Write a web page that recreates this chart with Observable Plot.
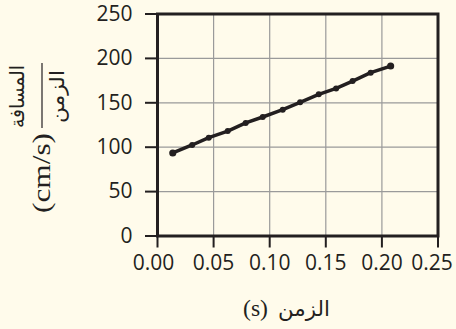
<!DOCTYPE html>
<html>
<head>
<meta charset="utf-8">
<script src="https://cdn.jsdelivr.net/npm/d3@7"></script>
<script src="https://cdn.jsdelivr.net/npm/@observablehq/plot@0.6"></script>
<style>
  html, body { margin: 0; padding: 0; background: #fffbeb; }
  #chart svg { display: block; background: #fffbeb; }
</style>
</head>
<body>
<div id="chart"></div>
<script>
const times = [0.0136, 0.0309, 0.0457, 0.0626, 0.0786, 0.0938, 0.1116, 0.1271, 0.1437, 0.1592, 0.1739, 0.1900, 0.2078];
const speeds = [93.5, 102.5, 110.7, 118.2, 127.3, 134.0, 142.2, 150.5, 159.5, 166.2, 174.5, 183.9, 191.4];
const xTicks = [0, 0.05, 0.10, 0.15, 0.20, 0.25];
const yTicks = [0, 50, 100, 150, 200, 250];
const xLabel = ["(s)", "الزمن"];
const yUnit = "(cm/s)";
const yNumerator = "المسافة";
const yDenominator = "الزمن";

const data = times.map((t, i) => ({t, v: speeds[i], end: i === 0 || i === times.length - 1}));
const ink = "#231f20";
const fmt = d3.format(".2f");
const labelStyle = {tickSize: 0, tickPadding: 19, label: null, fontSize: 21, fill: ink, tickFormat: fmt};

const plot = Plot.plot({
  width: 456,
  height: 329,
  marginLeft: 157,
  marginRight: 18.5,
  marginTop: 13.5,
  marginBottom: 93.5,
  style: {background: "#fffbeb", fontFamily: "'Open Sans', sans-serif", fontSize: "21px", color: ink},
  x: {domain: [0, 0.25]},
  y: {domain: [0, 250]},
  marks: [
    Plot.gridX(xTicks, {stroke: "#9a9a9a", strokeOpacity: 1, strokeWidth: 1.2}),
    Plot.gridY(yTicks, {stroke: "#9a9a9a", strokeOpacity: 1, strokeWidth: 1.2}),
    Plot.axisX(xTicks, {tickSize: 12, tickFormat: () => "", label: null, stroke: ink, strokeWidth: 2}),
    Plot.axisX([xTicks[0]], {...labelStyle, dx: -4}),
    Plot.axisX(xTicks.slice(1, -1), labelStyle),
    Plot.axisX([xTicks[xTicks.length - 1]], {...labelStyle, dx: -6}),
    Plot.axisY(yTicks, {tickFormat: d3.format("d"), tickSize: 12, tickPadding: 13, label: null, stroke: ink, strokeWidth: 2, fontSize: 21, fill: ink}),
    Plot.frame({stroke: ink, strokeWidth: 3}),
    Plot.line(data, {x: "t", y: "v", stroke: ink, strokeWidth: 3.5}),
    Plot.dot(data, {x: "t", y: "v", r: d => d.end ? 4.5 : 3.2, fill: ink, stroke: "none"})
  ]
});

document.getElementById("chart").appendChild(plot);

const svg = d3.select(plot);
const serif = "'Liberation Serif', 'DejaVu Serif', serif";
const arabic = "'DejaVu Sans', sans-serif";

// place a text so that its measured box is centred at cx with a given width, on baseline by
function fitText(parent, str, family, size, cx, by, width) {
  const g = parent.append("g");
  const t = g.append("text")
    .attr("font-family", family).attr("font-size", size)
    .attr("fill", ink)
    .text(str);
  const bb = t.node().getBBox();
  const sx = bb.width > 0 ? width / bb.width : 1;
  const tx = cx - (bb.x + bb.width / 2) * sx;
  g.attr("transform", `translate(${tx},${by}) scale(${sx},1)`);
  return g;
}

// x axis title: "(s)" then Arabic word
fitText(svg, xLabel[0], serif, 23, 255.5, 316, 25);
fitText(svg, xLabel[1], arabic, 21, 304, 316, 52);

// y axis title (rotated fraction)
const g = svg.append("g").attr("transform", "rotate(-90)");
fitText(g, yUnit, serif, 25, -173, 50, 80);
fitText(g, yNumerator, arabic, 20, -96.5, 24, 63);
g.append("line")
  .attr("x1", -128).attr("x2", -63)
  .attr("y1", 42).attr("y2", 42)
  .attr("stroke", ink).attr("stroke-width", 1.2);
fitText(g, yDenominator, arabic, 20, -96.5, 64, 53);
</script>
</body>
</html>
